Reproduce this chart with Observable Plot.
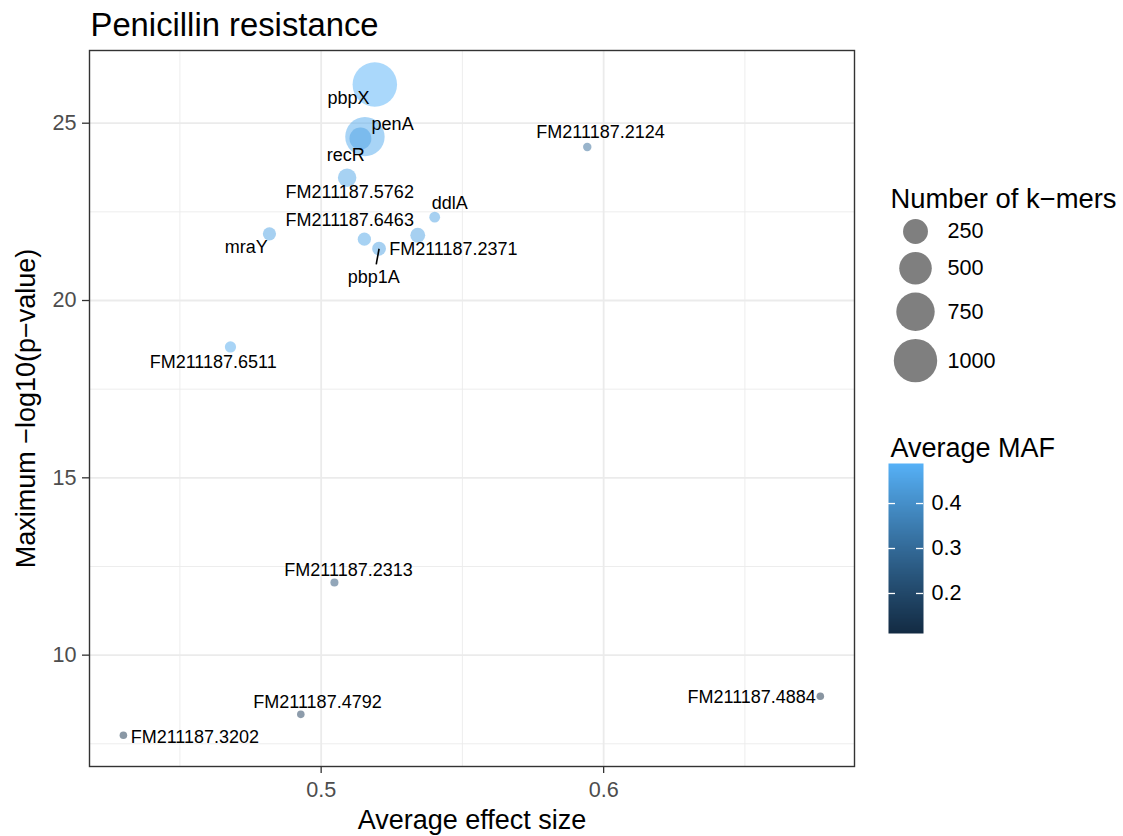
<!DOCTYPE html>
<html><head><meta charset="utf-8">
<script src="https://cdn.jsdelivr.net/npm/d3@7"></script>
<script src="https://cdn.jsdelivr.net/npm/@observablehq/plot@0.6"></script>
<style>
body{margin:0;background:#fff;}
#wrap{position:relative;width:1123px;height:836px;overflow:hidden;background:#fff;}
#wrap svg{position:absolute;font-family:"Liberation Sans",Arial,Helvetica,sans-serif;}
</style></head><body><div id="wrap"></div>
<script>
// ---- data ----
const genes = ["pbpX","penA","recR","FM211187.5762","FM211187.6463","ddlA","FM211187.2371","pbp1A","mraY","FM211187.2124","FM211187.6511","FM211187.2313","FM211187.4792","FM211187.3202","FM211187.4884"];
const effectSize = [0.519,0.5155,0.5139,0.5092,0.5153,0.5402,0.5342,0.5205,0.4817,0.5942,0.4679,0.5047,0.4928,0.4300,0.6767];
const maxLogP = [26.09,24.62,24.57,23.46,21.73,22.35,21.84,21.46,21.88,24.33,18.69,12.05,8.33,7.74,8.84];
const kmerCount = [1060,795,175,107,34,14,52,40,34,3,17,2,1,1,1];
const avgMAF = [0.489,0.47,0.45,0.46,0.46,0.45,0.45,0.45,0.45,0.30,0.47,0.22,0.16,0.13,0.111];
// repelled label positions (data units)
const labelX = [0.5097,0.5253,0.5087,0.5101,0.5101,0.5455,0.5468,0.5186,0.4735,0.5989,0.4618,0.5097,0.4987,0.4553,0.6524];
const labelY = [25.69,24.96,24.10,23.05,22.26,22.74,21.44,20.66,21.50,24.74,18.26,12.40,8.67,7.68,8.81];
// repel segment
const segGene = ["pbp1A"];
const segEndX = [0.5195];
const segEndY = [21.02];
// ticks
const xTicks = [0.5, 0.6];
const xMinor = [0.45, 0.55, 0.65];
const yTicks = [10, 15, 20, 25];
const yMinor = [7.5, 12.5, 17.5, 22.5];
const sizeBreaks = [250, 500, 750, 1000];
const mafTicks = [0.2, 0.3, 0.4];

const FONT = '"Liberation Sans",Arial,Helvetica,sans-serif';
const rOpts = {type: "sqrt", domain: [0, 1000], range: [3.2, 21.7]};
const colorOpts = {type: "linear", domain: [0.111, 0.489], range: ["#132B43", "#56B1F7"], interpolate: "lab"};

const points = genes.map((g, i) => ({gene: g, x: effectSize[i], y: maxLogP[i], k: kmerCount[i], maf: avgMAF[i], lx: labelX[i], ly: labelY[i]}));
const segs = segGene.map((g, i) => {
  const p = points.find(d => d.gene === g);
  return {x1: p.x, y1: p.y, x2: segEndX[i], y2: segEndY[i]};
});

const wrap = document.getElementById("wrap");

const main = Plot.plot({
  width: 870, height: 836,
  marginLeft: 89, marginRight: 16, marginTop: 50, marginBottom: 70,
  style: {fontFamily: FONT, background: "transparent", overflow: "visible"},
  x: {domain: [0.418, 0.6888], axis: null},
  y: {domain: [6.86, 27.05], axis: null},
  r: rOpts,
  color: colorOpts,
  marks: [
    Plot.gridX(xMinor, {stroke: "#ebebeb", strokeOpacity: 1, strokeWidth: 0.9}),
    Plot.gridY(yMinor, {stroke: "#ebebeb", strokeOpacity: 1, strokeWidth: 0.9}),
    Plot.gridX(xTicks, {stroke: "#ebebeb", strokeOpacity: 1, strokeWidth: 1.8}),
    Plot.gridY(yTicks, {stroke: "#ebebeb", strokeOpacity: 1, strokeWidth: 1.8}),
    Plot.dot(points, {x: "x", y: "y", r: "k", fill: "maf", fillOpacity: 0.5, stroke: null}),
    Plot.link(segs, {x1: "x1", y1: "y1", x2: "x2", y2: "y2", stroke: "black", strokeWidth: 1.6}),
    Plot.text(points, {x: "lx", y: "ly", text: "gene", fontSize: 18, fill: "black", lineAnchor: "middle"}),
    Plot.frame({stroke: "#333333", strokeWidth: 1.4}),
    Plot.axisX({ticks: xTicks, tickSize: 7, tickPadding: 8, fontSize: 21.6, stroke: "#333333", strokeWidth: 1.3, fill: "#4d4d4d", label: null, tickFormat: d => String(d)}),
    Plot.axisY({ticks: yTicks, tickSize: 7, tickPadding: 6, fontSize: 21.6, stroke: "#333333", strokeWidth: 1.3, fill: "#4d4d4d", label: null, tickFormat: d => String(d)}),
    Plot.text(["Average effect size"], {frameAnchor: "bottom", dy: 54, fontSize: 27, fill: "black", lineAnchor: "middle"}),
    Plot.text(["Maximum \u2212log10(p\u2212value)"], {frameAnchor: "left", textAnchor: "middle", dx: -63, rotate: -90, fontSize: 27, fill: "black", lineAnchor: "middle"}),
    Plot.text(["Penicillin resistance"], {frameAnchor: "top-left", textAnchor: "start", dx: 1, dy: -25.5, fontSize: 32.8, fill: "black", lineAnchor: "middle"})
  ]
});
main.style.left = "0px"; main.style.top = "0px";
wrap.appendChild(main);

// ---- size legend ----
const rScale = Plot.scale({r: rOpts});
const keyH = sizeBreaks.map(v => 2 * rScale.apply(v) + 8);
const centers = [];
let acc = 71;
keyH.forEach((h, i) => { if (i > 0) acc += (keyH[i - 1] + h) / 2; centers.push(acc); });
const sizeItems = sizeBreaks.map((v, i) => ({v, cy: centers[i]}));
const sizeLegend = Plot.plot({
  width: 243, height: 230, margin: 0,
  style: {fontFamily: FONT, background: "transparent", overflow: "visible"},
  x: {type: "identity", axis: null},
  y: {type: "identity", axis: null},
  r: rOpts,
  marks: [
    Plot.text(["Number of k\u2212mers"], {frameAnchor: "top-left", textAnchor: "start", dx: 10, dy: 38.4, fontSize: 27.4, fill: "black", lineAnchor: "middle"}),
    Plot.dot(sizeItems, {x: () => 35, y: "cy", r: "v", fill: "black", fillOpacity: 0.5, stroke: null}),
    Plot.text(sizeItems, {x: () => 67, y: "cy", text: d => String(d.v), textAnchor: "start", fontSize: 21.6, fill: "black", lineAnchor: "middle"})
  ]
});
sizeLegend.style.left = "880px"; sizeLegend.style.top = "160px";
wrap.appendChild(sizeLegend);

// ---- colour legend ----
const colorLegend = Plot.plot({
  width: 243, height: 230,
  marginLeft: 8, marginRight: 200, marginTop: 43, marginBottom: 17,
  style: {fontFamily: FONT, background: "transparent", overflow: "visible"},
  x: {domain: [0, 1], axis: null},
  y: {domain: colorOpts.domain, axis: null},
  color: colorOpts,
  marks: [
    Plot.raster({x1: 0, x2: 1, y1: colorOpts.domain[0], y2: colorOpts.domain[1], width: 1, height: 200, fill: (x, y) => y, imageRendering: "auto"}),
    Plot.ruleY(mafTicks, {x1: 0, x2: 0.2, stroke: "white", strokeWidth: 1.3}),
    Plot.ruleY(mafTicks, {x1: 0.8, x2: 1, stroke: "white", strokeWidth: 1.3}),
    Plot.axisY({anchor: "right", ticks: mafTicks, tickSize: 0, tickPadding: 8, fontSize: 21.6, fill: "black", stroke: "none", label: null, tickFormat: d => String(d)}),
    Plot.text(["Average MAF"], {frameAnchor: "top-left", textAnchor: "start", dx: 2, dy: -15.6, fontSize: 27, fill: "black", lineAnchor: "middle"})
  ]
});
colorLegend.style.left = "880px"; colorLegend.style.top = "420px";
wrap.appendChild(colorLegend);
</script></body></html>
